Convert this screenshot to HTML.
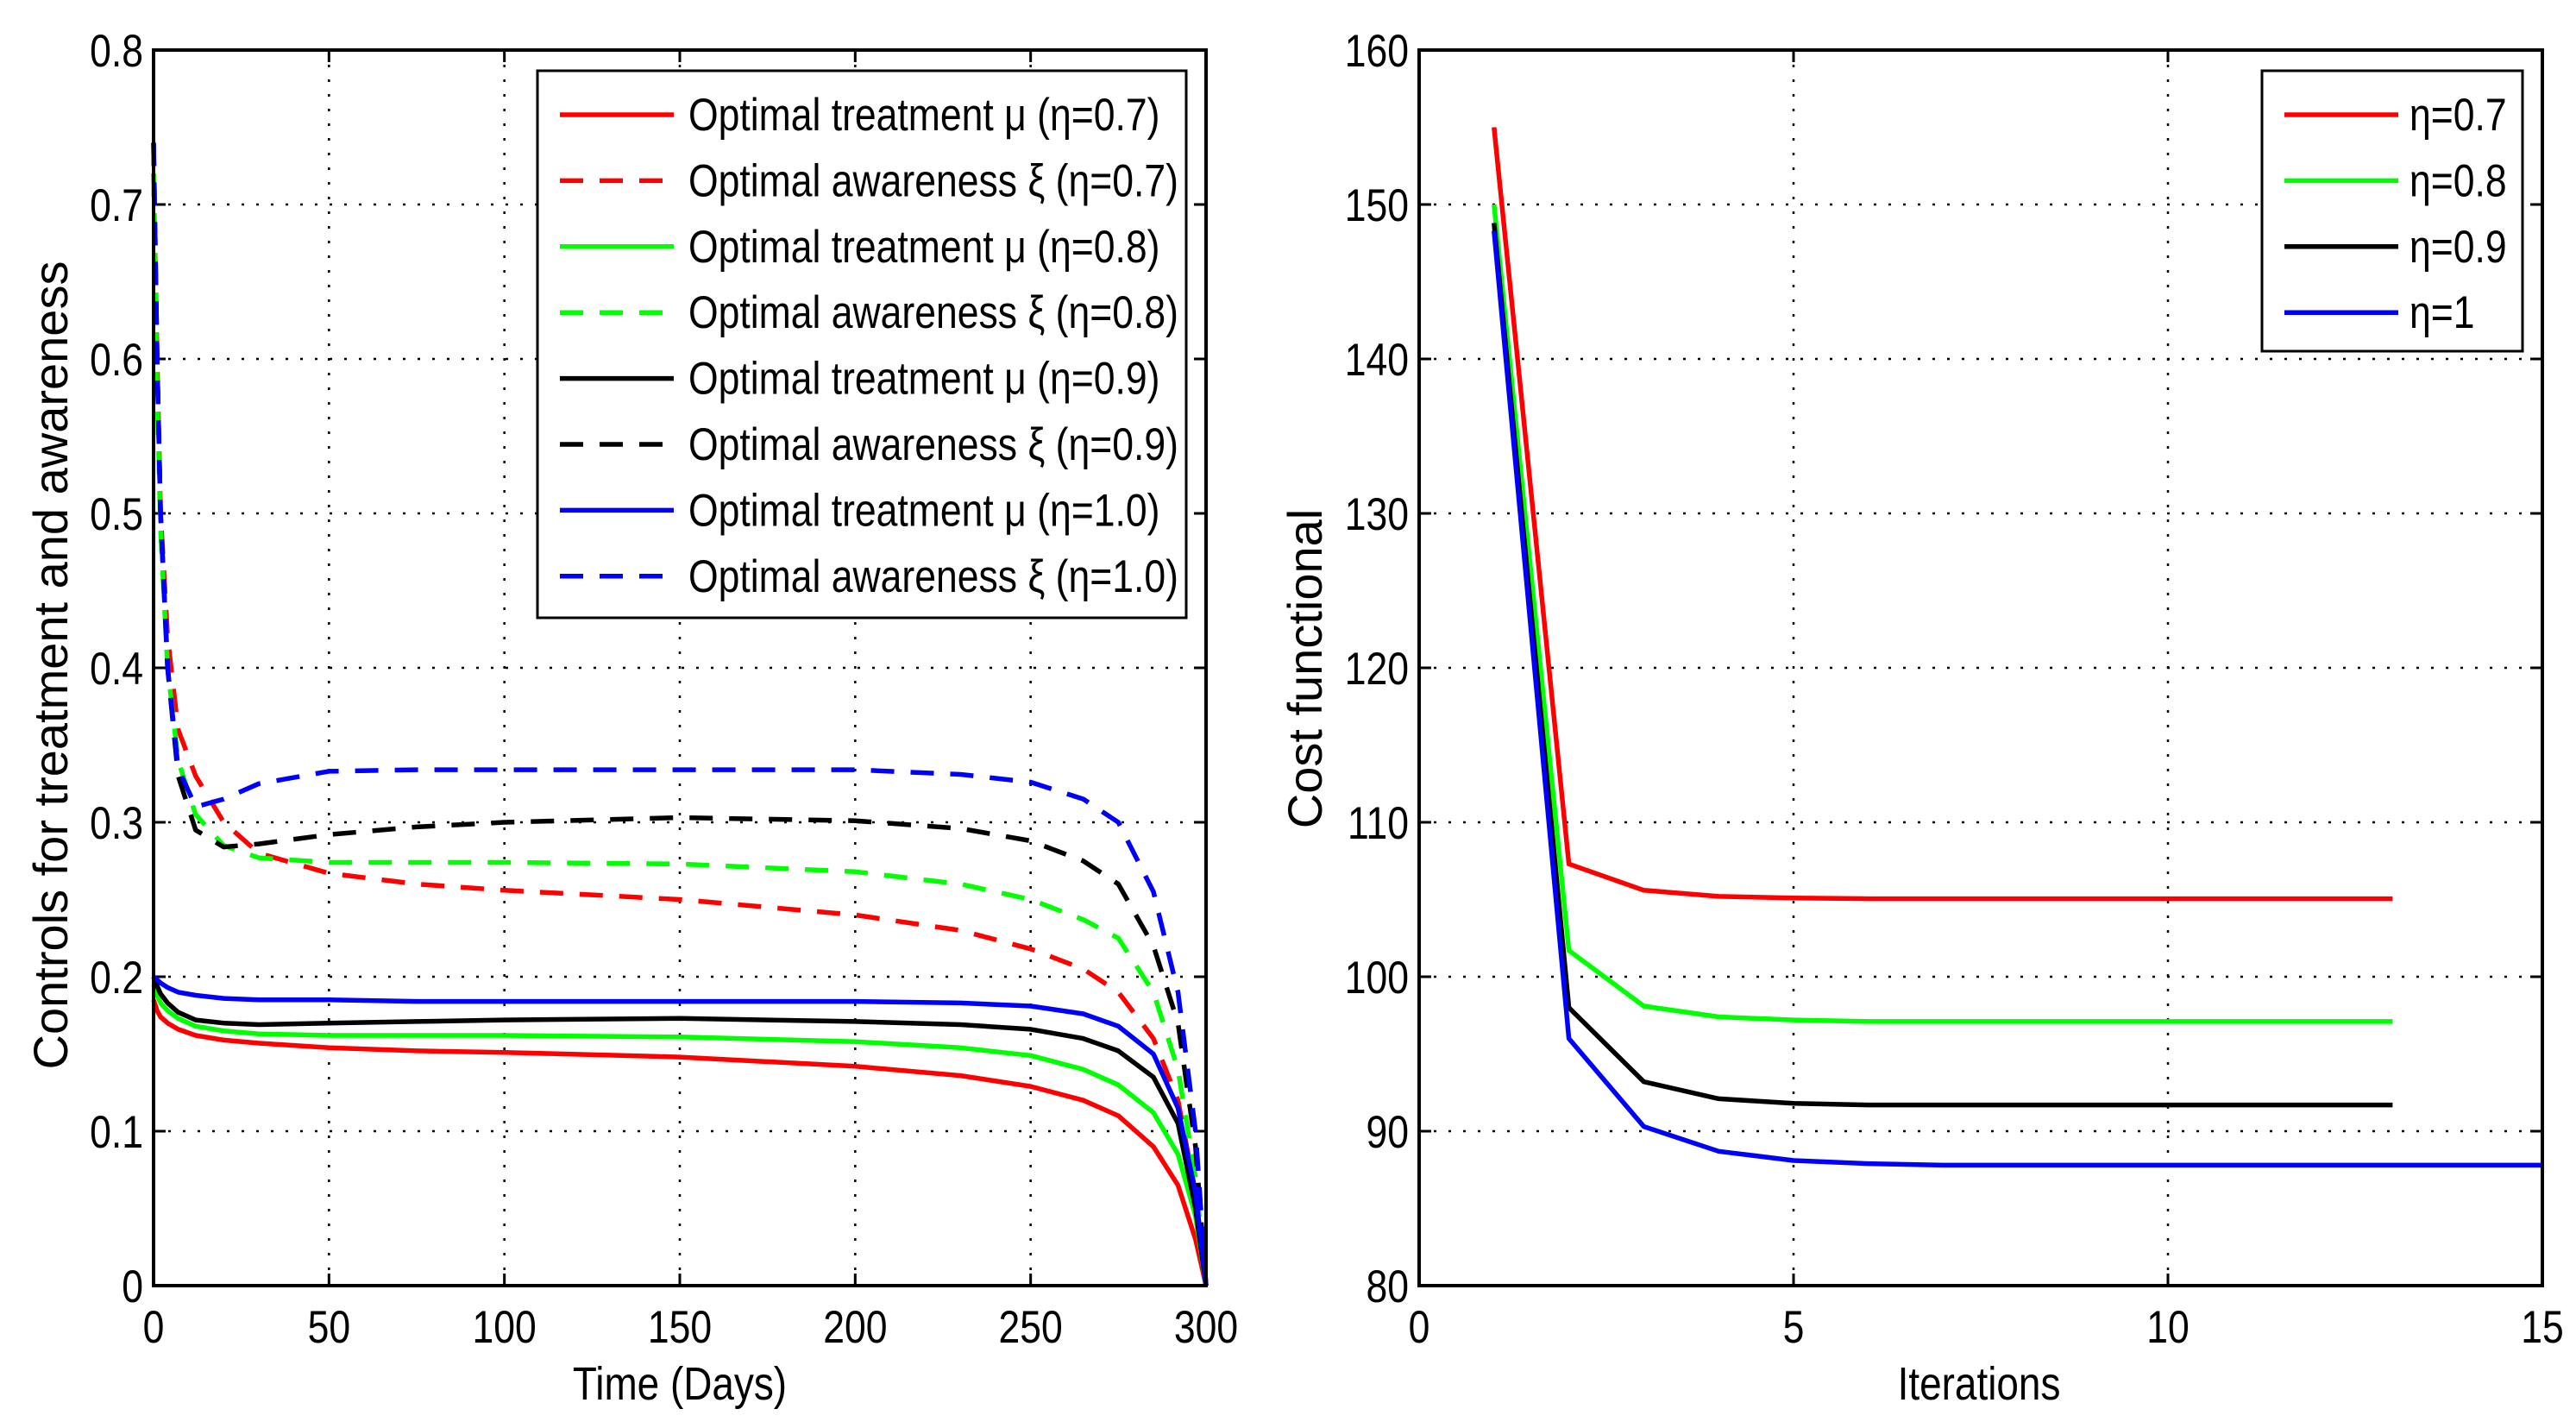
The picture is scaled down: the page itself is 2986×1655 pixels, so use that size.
<!DOCTYPE html>
<html><head><meta charset="utf-8">
<style>
html,body{margin:0;padding:0;background:#fff;}
svg{display:block;}
text{font-family:"Liberation Sans",sans-serif;fill:#000;}
</style></head>
<body>
<svg id="fig" width="2986" height="1655" viewBox="0 0 2986 1655" xmlns="http://www.w3.org/2000/svg">
<rect x="0" y="0" width="2986" height="1655" fill="#fff"/>
<g id="left"></g>
<g id="right"></g>
</svg>
<script>
const days = [0,1,2,4,7,12,20,30,50,75,100,150,200,230,250,265,275,285,292,297,300];
const muEta07 = [.185,.178,.174,.17,.166,.162,.159,.157,.154,.152,.151,.148,.142,.136,.129,.12,.11,.09,.065,.03,0];
const xiEta07 = [.72,.6,.5,.42,.36,.33,.3,.28,.267,.26,.256,.25,.24,.23,.218,.205,.19,.16,.12,.06,0];
const muEta08 = [.195,.188,.183,.178,.173,.168,.165,.163,.162,.162,.162,.161,.158,.154,.149,.14,.13,.112,.085,.045,0];
const xiEta08 = [.72,.58,.49,.4,.34,.305,.285,.277,.274,.274,.274,.273,.268,.26,.25,.237,.225,.19,.14,.07,0];
const muEta09 = [.2,.194,.189,.183,.177,.172,.17,.169,.17,.171,.172,.173,.171,.169,.166,.16,.152,.135,.105,.05,0];
const xiEta09 = [.74,.6,.5,.4,.33,.295,.284,.286,.292,.297,.3,.303,.301,.296,.288,.275,.26,.22,.17,.09,0];
const muEta10 = [.2,.198,.196,.193,.19,.188,.186,.185,.185,.184,.184,.184,.184,.183,.181,.176,.168,.15,.115,.06,0];
const xiEta10 = [.74,.6,.5,.4,.335,.31,.315,.325,.333,.334,.334,.334,.334,.331,.326,.315,.3,.255,.19,.1,0];
const leftXTicks = [0,50,100,150,200,250,300];
const leftYTicks = [0,0.1,0.2,0.3,0.4,0.5,0.6,0.7,0.8];
const leftLegendLabels = ["Optimal treatment \u03bc (\u03b7=0.7)","Optimal awareness \u03be (\u03b7=0.7)","Optimal treatment \u03bc (\u03b7=0.8)","Optimal awareness \u03be (\u03b7=0.8)","Optimal treatment \u03bc (\u03b7=0.9)","Optimal awareness \u03be (\u03b7=0.9)","Optimal treatment \u03bc (\u03b7=1.0)","Optimal awareness \u03be (\u03b7=1.0)"];

const iterShort = [1,2,3,4,5,6,7,8,9,10,11,12,13];
const iterLong = [1,2,3,4,5,6,7,8,9,10,11,12,13,14,15];
const costEta07 = [155,107.3,105.6,105.2,105.1,105.05,105.05,105.05,105.05,105.05,105.05,105.05,105.05];
const costEta08 = [150,101.7,98.1,97.4,97.2,97.1,97.1,97.1,97.1,97.1,97.1,97.1,97.1];
const costEta09 = [148.8,98,93.2,92.1,91.8,91.7,91.7,91.7,91.7,91.7,91.7,91.7,91.7];
const costEta10 = [148.3,96,90.3,88.7,88.1,87.9,87.8,87.8,87.8,87.8,87.8,87.8,87.8,87.8,87.8];
const rightXTicks = [0,5,10,15];
const rightYTicks = [80,90,100,110,120,130,140,150,160];
const rightLegendLabels = ["\u03b7=0.7","\u03b7=0.8","\u03b7=0.9","\u03b7=1"];

const NS = "http://www.w3.org/2000/svg";
function mk(parent, tag, attrs){ const e=document.createElementNS(NS,tag); for(const k in attrs) e.setAttribute(k,attrs[k]); parent.appendChild(e); return e; }
function txt(parent, x, y, s, anchor, size, rot, sc){
  const k = sc===undefined?0.84:sc;
  const t = mk(parent,"text",{"text-anchor":anchor,"font-size":size,
    transform:`translate(${x},${y})`+(rot?` rotate(${rot})`:"")+` scale(${k},1)`});
  t.textContent = s; return t;
}
function axes(g, X0,X1,Y0,Y1, xmin,xmax,ymin,ymax, xt, yt, xfmt, yfmt){
  const sx=v=>X0+(v-xmin)/(xmax-xmin)*(X1-X0);
  const sy=v=>Y1-(v-ymin)/(ymax-ymin)*(Y1-Y0);
  xt.forEach(v=>{
    if(v!==xmin&&v!==xmax){ const l=mk(g,"line",{x1:sx(v),x2:sx(v),y1:Y0,y2:Y1,stroke:"#000","stroke-width":2.5,"stroke-dasharray":"3 14"});
        }
    mk(g,"line",{x1:sx(v),x2:sx(v),y1:Y1,y2:Y1-14,stroke:"#000","stroke-width":3});
    mk(g,"line",{x1:sx(v),x2:sx(v),y1:Y0,y2:Y0+14,stroke:"#000","stroke-width":3});
    const t=txt(g,sx(v),Y1+66,xfmt(v),"middle",53);
     
  });
  yt.forEach(v=>{
    if(v!==ymin&&v!==ymax){ const l=mk(g,"line",{x1:X0,x2:X1,y1:sy(v),y2:sy(v),stroke:"#000","stroke-width":2.5,"stroke-dasharray":"3 14"});
        }
    mk(g,"line",{x1:X0,x2:X0+14,y1:sy(v),y2:sy(v),stroke:"#000","stroke-width":3});
    mk(g,"line",{x1:X1,x2:X1-14,y1:sy(v),y2:sy(v),stroke:"#000","stroke-width":3});
    const t=txt(g,X0-12,sy(v)+19,yfmt(v),"end",53);
     
  });
  return {sx,sy};
}
function series(g, xs, ys, sc, color, dash, name){
  const pts = xs.map((x,i)=>sc.sx(x).toFixed(1)+","+sc.sy(ys[i]).toFixed(1)).join(" ");
  const p = mk(g,"polyline",{points:pts,fill:"none",stroke:color,"stroke-width":5.5,"stroke-linejoin":"round"});
  if(dash) p.setAttribute("stroke-dasharray","27 19");
  
  
}

// LEFT
const L = document.getElementById("left");
const LX0=178,LX1=1398,LY0=58,LY1=1490;
const ls = axes(L,LX0,LX1,LY0,LY1,0,300,0,0.8,leftXTicks,leftYTicks,v=>String(v),v=>v===0?"0":v.toFixed(1));
const leftSeries = [[muEta07,"#ff0000",false],[xiEta07,"#ff0000",true],[muEta08,"#00ff00",false],[xiEta08,"#00ff00",true],
  [muEta09,"#000000",false],[xiEta09,"#000000",true],[muEta10,"#0000ff",false],[xiEta10,"#0000ff",true]];
const seriesNames = ['treatment-eta-0-7','awareness-eta-0-7','treatment-eta-0-8','awareness-eta-0-8','treatment-eta-0-9','awareness-eta-0-9','treatment-eta-1-0','awareness-eta-1-0'];
leftSeries.forEach((s,i)=>series(L,days,s[0],ls,s[1],s[2],seriesNames[i]));
mk(L,"rect",{x:LX0,y:LY0,width:LX1-LX0,height:LY1-LY0,fill:"none",stroke:"#000","stroke-width":4});
const lleg = mk(L,"g",{});


mk(lleg,"rect",{x:623,y:82,width:752,height:634,fill:"#fff",stroke:"#000","stroke-width":3});
leftLegendLabels.forEach((s,i)=>{
  const y=133+i*76.4;
  const l=mk(lleg,"line",{x1:649,x2:781,y1:y,y2:y,stroke:leftSeries[i][1],"stroke-width":5.5});
  if(leftSeries[i][2]) l.setAttribute("stroke-dasharray","27 19");
  const t=txt(lleg,798,y+18,s,"start",53,0,0.84);
  
  
});
const lxt = txt(L,788,1622,"Time (Days)","middle",54,0,0.85);


const lyt = txt(L,78,771,"Controls for treatment and awareness","middle",56,-90,1);



// RIGHT
const R = document.getElementById("right");
const RX0=1645,RX1=2947,RY0=58,RY1=1490;
const rs = axes(R,RX0,RX1,RY0,RY1,0,15,80,160,rightXTicks,rightYTicks,v=>String(v),v=>String(v));
series(R,iterShort,costEta07,rs,"#ff0000",false,'cost-eta-0-7');
series(R,iterShort,costEta08,rs,"#00ff00",false,'cost-eta-0-8');
series(R,iterShort,costEta09,rs,"#000000",false,'cost-eta-0-9');
series(R,iterLong,costEta10,rs,"#0000ff",false,'cost-eta-1');
mk(R,"rect",{x:RX0,y:RY0,width:RX1-RX0,height:RY1-RY0,fill:"none",stroke:"#000","stroke-width":4});
const rleg = mk(R,"g",{});


mk(rleg,"rect",{x:2622,y:82,width:302,height:325,fill:"#fff",stroke:"#000","stroke-width":3});
const rcol=["#ff0000","#00ff00","#000000","#0000ff"];
rightLegendLabels.forEach((s,i)=>{
  const y=133+i*76.4;
  mk(rleg,"line",{x1:2648,x2:2780,y1:y,y2:y,stroke:rcol[i],"stroke-width":5.5});
  const t=txt(rleg,2793,y+18,s,"start",53,0,0.84);
  
  
});
const rxt = txt(R,2294,1622,"Iterations","middle",54,0,0.85);


const ryt = txt(R,1532,775,"Cost functional","middle",56,-90,1);


</script>
</body></html>
